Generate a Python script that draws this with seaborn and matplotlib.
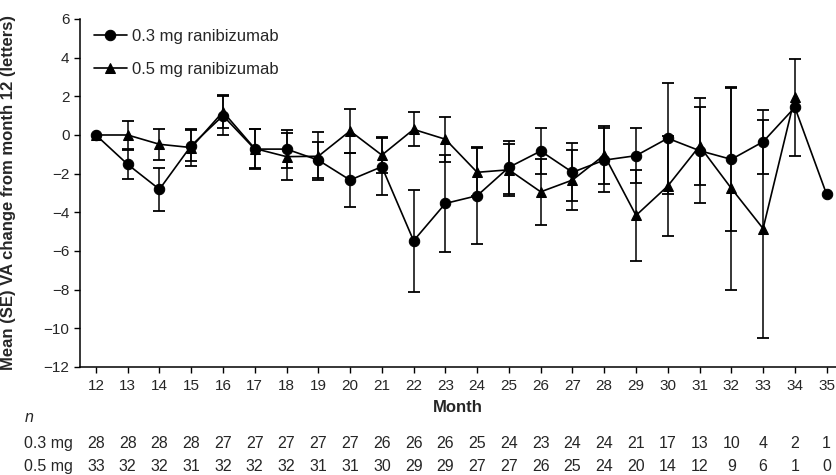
import numpy as np
import pandas as pd
import seaborn as sns
import matplotlib.pyplot as plt
import matplotlib.transforms as mtransforms

# Values
months = list(range(12, 36))
mean_03 = [0, -1.52, -2.81, -0.55, 1.0, -0.73, -0.73, -1.3, -2.33, -1.64, -5.47, -3.54,
           -3.14, -1.67, -0.83, -1.93, -1.3, -1.07, -0.17, -0.81, -1.26, -0.35, 1.43, -3.07]
se_03 = [np.nan, 0.76, 1.1, 0.8, 1.0, 1.02, 0.99, 0.92, 1.4, 1.46, 2.63, 2.5,
         2.5, 1.36, 1.18, 1.5, 1.65, 1.43, 2.88, 2.7, 3.71, 1.65, 2.52, np.nan]
mean_05 = [0, 0.0, -0.48, -0.65, 1.2, -0.7, -1.12, -1.1, 0.21, -1.04, 0.29, -0.22,
           -1.93, -1.8, -2.94, -2.33, -1.04, -4.16, -2.64, -0.57, -2.76, -4.84, 1.95, np.nan]
se_05 = [np.nan, 0.74, 0.8, 0.95, 0.85, 1.0, 1.21, 1.24, 1.14, 0.95, 0.88, 1.17,
         1.25, 1.33, 1.72, 1.55, 1.5, 2.37, 2.59, 2.02, 5.24, 5.64, np.nan, np.nan]
n_03 = [28, 28, 28, 28, 27, 27, 27, 27, 27, 26, 26, 26, 25, 24, 23, 24, 24, 21, 17, 13, 10, 4, 2, 1]
n_05 = [33, 32, 32, 31, 32, 32, 32, 31, 31, 30, 29, 29, 27, 27, 26, 25, 24, 20, 14, 12, 9, 6, 1, 0]
groups = ["0.3 mg ranibizumab", "0.5 mg ranibizumab"]

df = pd.DataFrame({
    "month": months * 2,
    "mean": mean_03 + mean_05,
    "se": se_03 + se_05,
    "group": [groups[0]] * len(months) + [groups[1]] * len(months),
})

sns.set_style("ticks")
plt.rcParams["font.family"] = ["Liberation Sans", "DejaVu Sans"]
plt.rcParams["font.size"] = 11

fig = plt.figure(figsize=(8.37, 4.75), dpi=100)
ax = fig.add_axes([0.0956, 0.2274, 0.9034, 0.7326])

# error bars first (behind the markers)
for g in groups:
    sub = df[df["group"] == g]
    ax.errorbar(sub["month"], sub["mean"], yerr=sub["se"], fmt="none",
                ecolor="black", elinewidth=1.1, capsize=4, capthick=1.3, zorder=1)

sns.lineplot(data=df.dropna(subset=["mean"]), x="month", y="mean", hue="group", style="group",
             hue_order=groups, style_order=groups,
             palette=["black", "black"], markers={groups[0]: "o", groups[1]: "^"},
             dashes=False, markersize=7.5, linewidth=1.2, markeredgecolor="black",
             ax=ax)
ax.lines[0].set_zorder(4)

ax.set_xlim(11.5, 35.3)
ax.set_ylim(-12, 6)
ax.set_xticks(months)
ax.set_yticks(range(-12, 7, 2))
ax.set_yticklabels([str(v).replace("-", "\u2212") for v in range(-12, 7, 2)])
sns.despine(ax=ax)
ax.tick_params(axis="both", labelsize=11, direction="out", length=4, width=1, color="black")
ax.tick_params(axis="x", pad=5)
for s in ["left", "bottom"]:
    ax.spines[s].set_linewidth(1.1)
    ax.spines[s].set_color("black")

ax.set_xlabel("Month", fontsize=12, fontweight="bold", labelpad=5)
ax.set_ylabel("Mean (SE) VA change from month 12 (letters)", fontsize=12, fontweight="bold")
ax.yaxis.set_label_coords(-0.085, 0.5)

leg = ax.legend(loc="upper left", bbox_to_anchor=(0.018, 0.972), frameon=False,
                fontsize=12, handlelength=2.0, handletextpad=0.3, labelspacing=1.1,
                borderpad=0, borderaxespad=0)

# n-at-risk table below the axis
trans = mtransforms.blended_transform_factory(ax.transData, fig.transFigure)
fig.text(0.029, 0.12, "n", fontsize=11.5, style="italic", va="center")
fig.text(0.029, 0.066, "0.3 mg", fontsize=11.5, va="center")
fig.text(0.029, 0.017, "0.5 mg", fontsize=11.5, va="center")
for m, a, b in zip(months, n_03, n_05):
    ax.text(m, 0.066, str(a), transform=trans, ha="center", va="center", fontsize=11.5)
    ax.text(m, 0.017, str(b), transform=trans, ha="center", va="center", fontsize=11.5)

fig.savefig("out.png", dpi=100)
